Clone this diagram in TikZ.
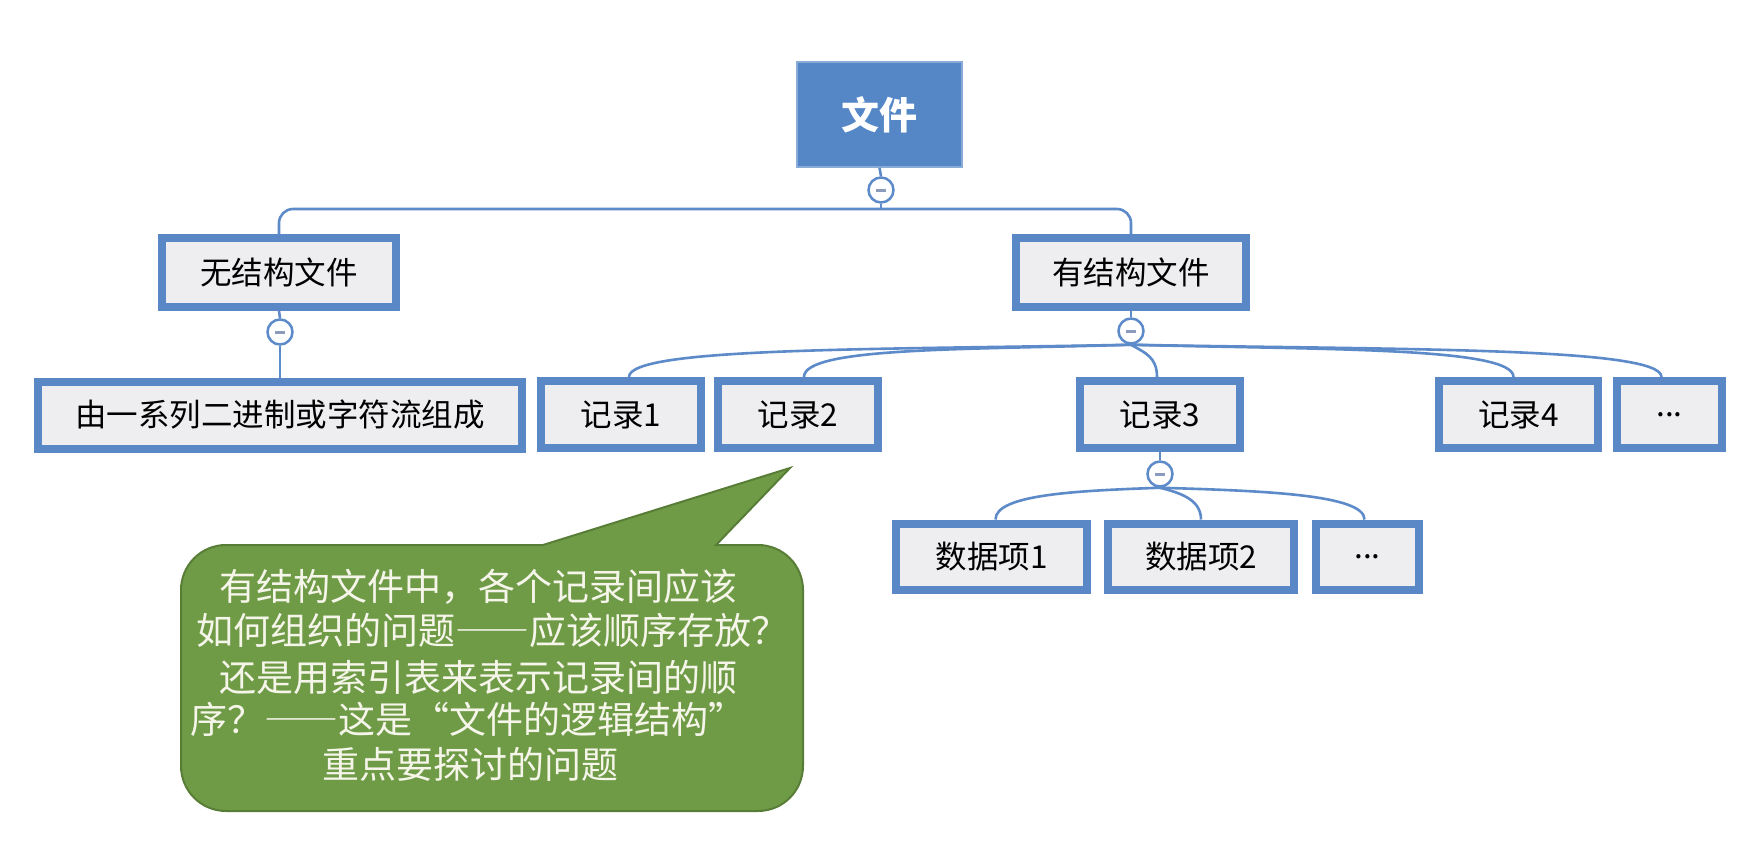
\documentclass[tikz,border=0pt]{standalone}
\usepackage{fontspec}
\newfontfamily\cjk{Noto Sans CJK SC}
\newfontfamily\cjkfw{Noto Sans CJK SC}[CharacterWidth=Full]
\definecolor{boxblue}{HTML}{5A87C6}
\definecolor{topblue}{HTML}{5587C7}
\definecolor{boxgray}{HTML}{EEEEF1}
\definecolor{linkblue}{HTML}{5D8AC8}
\definecolor{minuscol}{HTML}{8A9BBE}
\definecolor{calfill}{HTML}{6F9B47}
\definecolor{calline}{HTML}{587D36}
\definecolor{caltext}{HTML}{F5F5E9}
\newcommand\fw[1]{{\cjkfw #1}}
\begin{document}
\begin{tikzpicture}[x=1pt,y=-1pt,
  box/.style={draw=boxblue, line width=8pt, fill=boxgray, inner sep=0pt,
    font=\cjk\fontsize{31.5}{36}\selectfont, text=black},
  topbox/.style={draw=topblue!70!white, line width=1.5pt, fill=topblue, inner sep=0pt,
    font=\cjk\bfseries\fontsize{38}{44}\selectfont, text=white},
  circ/.style={circle, draw=linkblue, line width=2.5pt, fill=white, minimum size=25pt, inner sep=0pt,
    path picture={\draw[minuscol, line width=3pt] ([xshift=-5pt]path picture bounding box.center) -- ([xshift=5pt]path picture bounding box.center);}},
  conn/.style={draw=linkblue, line width=2.6pt},
  ctext/.style={font=\cjk\fontsize{37}{44}\selectfont, text=caltext, inner sep=0pt, anchor=center}
]
\useasboundingbox[fill=white] (0,0) rectangle (1754,859);

% nodes
\node[topbox, minimum width=165pt, minimum height=105pt] (file) at (879.5,114.5) {文件};
\node[box, minimum width=234pt, minimum height=69pt] (unstr) at (279,272.5) {无结构文件};
\node[box, minimum width=230pt, minimum height=69pt] (str) at (1131,272.5) {有结构文件};
\node[box, minimum width=484pt, minimum height=67pt] (seq) at (280,415) {由一系列二进制或字符流组成};
\node[box, minimum width=160pt, minimum height=67pt] (r1) at (621,414.5) {记录1};
\node[box, minimum width=160pt, minimum height=67pt] (r2) at (798,414.5) {记录2};
\node[box, minimum width=160pt, minimum height=67pt] (r3) at (1160,414.5) {记录3};
\node[box, minimum width=159pt, minimum height=67pt] (r4) at (1518.5,414.5) {记录4};
\node[box, minimum width=105pt, minimum height=67pt] (rd) at (1669.5,414.5) {...};
\node[box, minimum width=191pt, minimum height=66pt] (d1) at (991.5,556.5) {数据项1};
\node[box, minimum width=186pt, minimum height=66pt] (d2) at (1201,556.5) {数据项2};
\node[box, minimum width=103pt, minimum height=66pt] (dd) at (1367.5,556.5) {...};

\node[circ] (c0) at (881,190) {};
\node[circ] (c1) at (280,332) {};
\node[circ] (c2) at (1131,331) {};
\node[circ] (c3) at (1160,474) {};
\coordinate (j0) at (881,209);

% connectors
\draw[conn] (file.south) -- (c0.north);
\draw[conn] (c0.south) -- (j0);
\draw[conn, rounded corners=14pt] (unstr.north) |- (j0) -| (str.north);
\draw[conn] (unstr.south) -- (c1.north);
\draw[conn] (c1.south) -- (seq.north);
\draw[conn] (str.south) -- (c2.north);
\draw[conn] (c2.south) .. controls +(-255,5) and +(0,-30) .. ([xshift=8pt]r1.north);
\draw[conn] (c2.south) .. controls +(-166,5) and +(0,-30) .. ([xshift=6pt]r2.north);
\draw[conn] (c2.south) .. controls +(14,8) and +(0,-20) .. ([xshift=-3pt]r3.north);
\draw[conn] (c2.south) .. controls +(193,5) and +(0,-30) .. ([xshift=-5pt]r4.north);
\draw[conn] (c2.south) .. controls +(269,5) and +(0,-30) .. ([xshift=-8pt]rd.north);
\draw[conn] (r3.south) -- (c3.north);
\draw[conn] (c3.south) .. controls +(-84,3) and +(0,-25) .. ([xshift=4pt]d1.north);
\draw[conn] (c3.south) .. controls +(20,5) and +(0,-20) .. (d2.north);
\draw[conn] (c3.south) .. controls +(103,3) and +(0,-25) .. ([xshift=-3pt]dd.north);

% callout
\draw[calline, fill=calfill, line width=2pt, line join=miter]
  (181,590) arc[start angle=180, end angle=270, radius=45]
  -- (543,545) -- (790,468) -- (716,545) -- (758,545)
  arc[start angle=270, end angle=360, radius=45]
  -- (803,766) arc[start angle=0, end angle=90, radius=45]
  -- (226,811) arc[start angle=90, end angle=180, radius=45]
  -- cycle;

\node[ctext] (t1) at (478,587) {有结构文件中，各个记录间应该};
\node[ctext] (t2) at (492,630) {如何组织的问题\fw{——}应该顺序存放？};
\node[ctext] (t3) at (478,677) {还是用索引表来表示记录间的顺};
\node[ctext] (t4) at (468,719) {序？\fw{——}这是\fw{“}文件的逻辑结构\fw{”}};
\node[ctext] (t5) at (470,764) {重点要探讨的问题};
\end{tikzpicture}
\end{document}
